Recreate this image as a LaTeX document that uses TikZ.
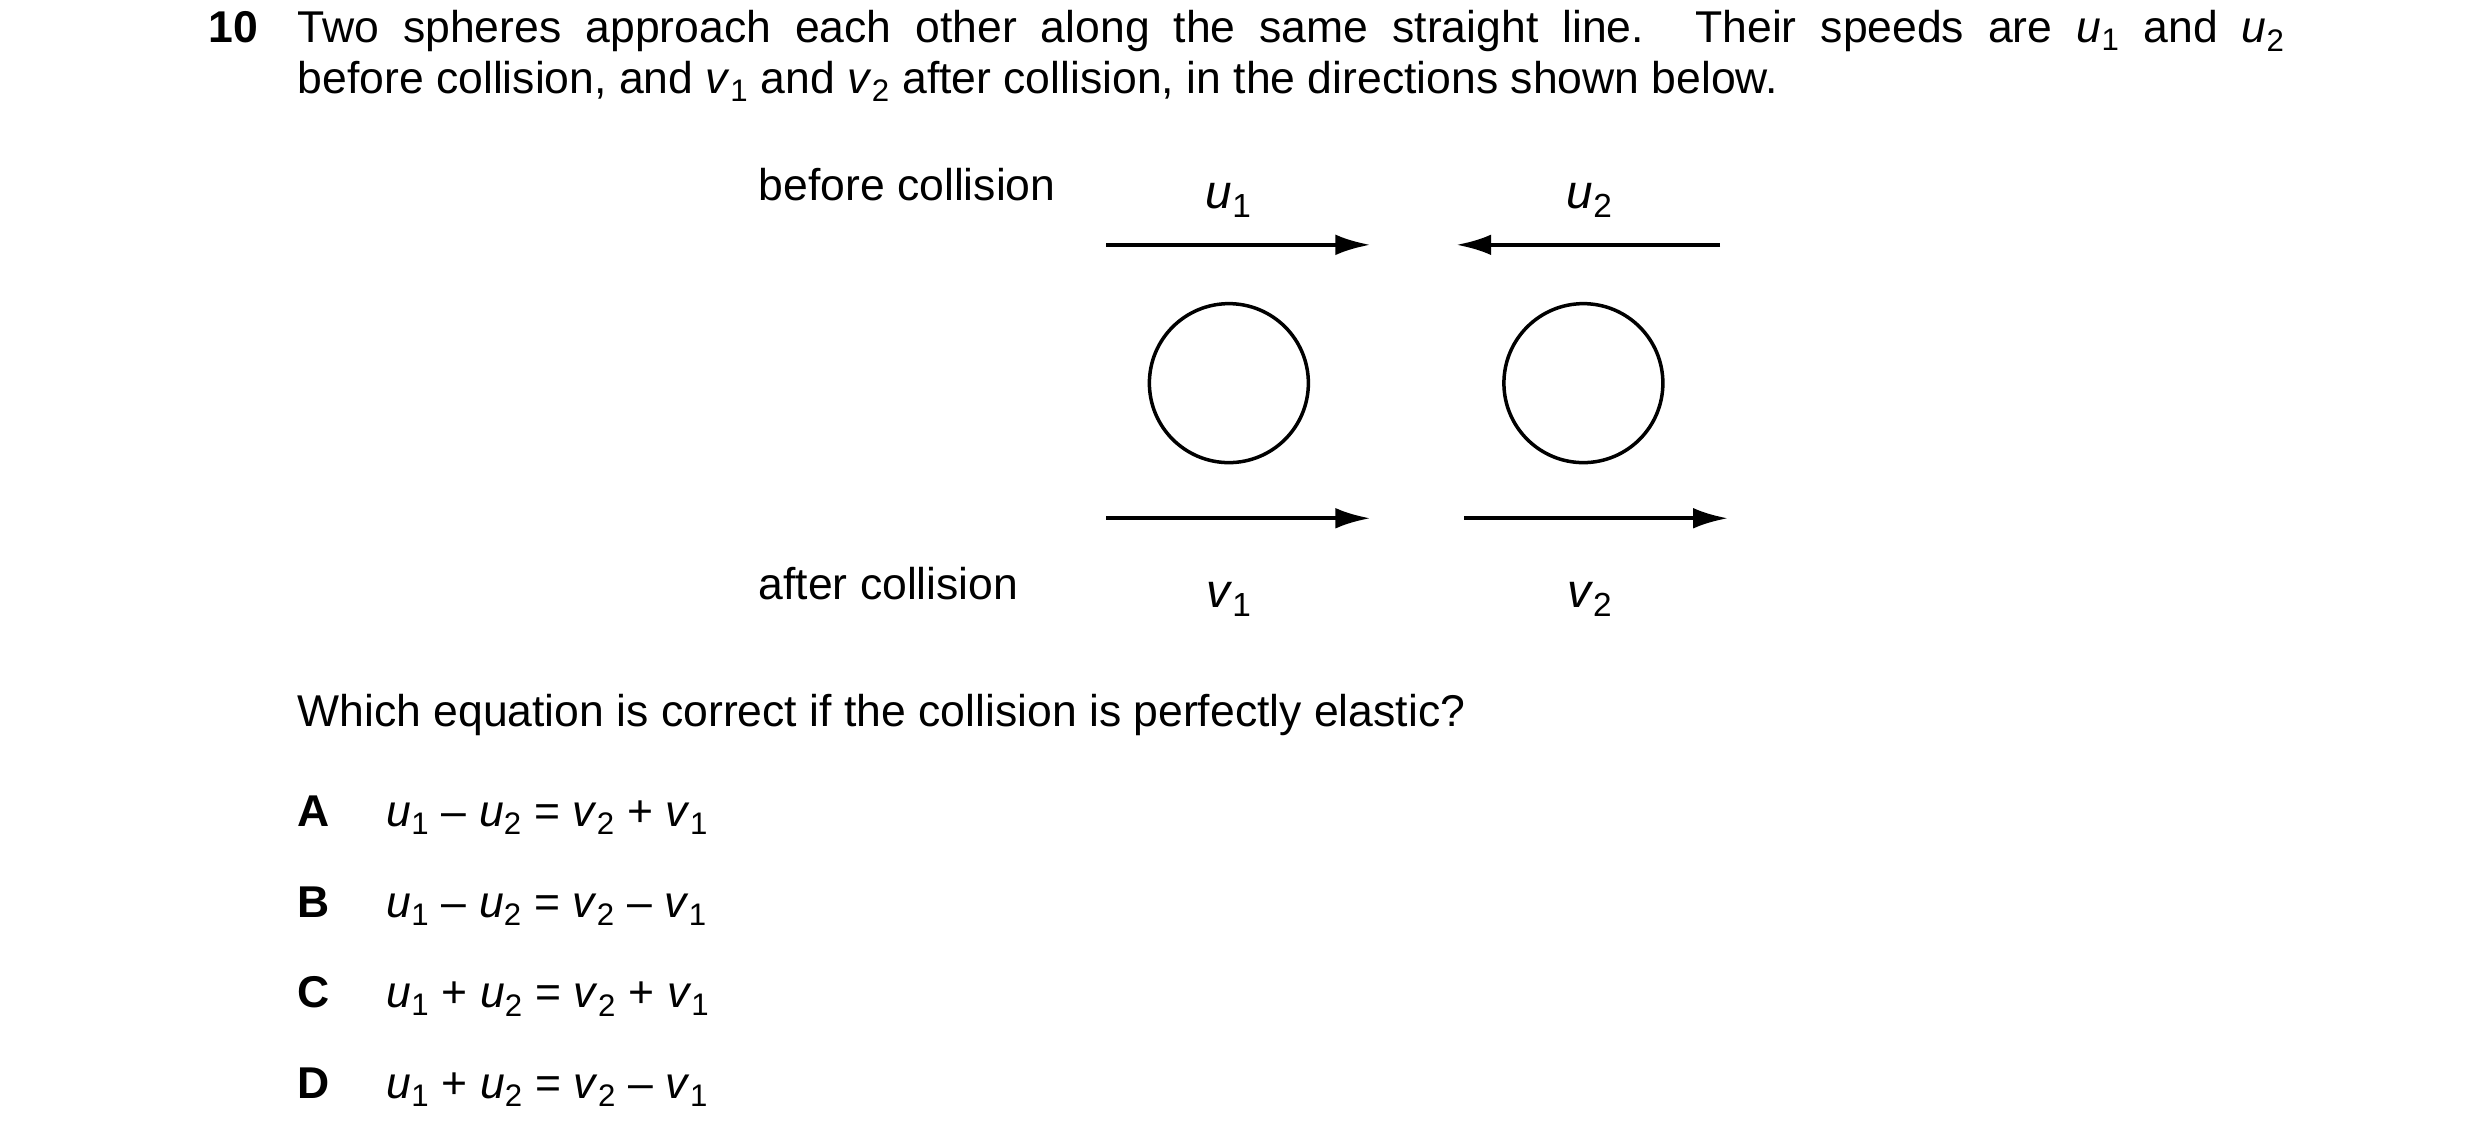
\documentclass[tikz,border=0pt]{standalone}
\usepackage{fontspec}
\setmainfont{Liberation Sans}
\usetikzlibrary{arrows.meta}
\newcommand{\vq}[2]{\textit{#1}\textsubscript{#2}}
\begin{document}
\begin{tikzpicture}[x=1pt,y=-1pt,
  txt/.style={anchor=base west,inner sep=0pt,font=\fontsize{28}{32}\selectfont},
  lab/.style={anchor=base,inner sep=0pt,font=\fontsize{30}{32}\selectfont},
  arr/.style={line width=2.6pt,-{Latex[length=22pt,width=13pt]}},
  ball/.style={circle,draw,line width=2.2pt,minimum size=100pt,inner sep=0pt}]
\useasboundingbox (0,0) rectangle (1560,715.2);
\node[txt,font=\bfseries\fontsize{28}{32}\selectfont] (num) at (131,27) {10};
\node[txt] (l1) at (187,27) {\makebox[1250pt][s]{Two spheres approach each other along the same straight line. Their speeds are \vq{u}{1} and \vq{u}{2}}};
\node[txt] (l2) at (187,59) {before collision, and \vq{v}{1} and \vq{v}{2} after collision, in the directions shown below.};
\node[txt] (bc) at (477,126) {before collision};
\node[txt] (ac) at (477,377) {after collision};
\node[lab] (u1) at (773,131) {\vq{u}{1}};
\node[lab] (u2) at (1000,131) {\vq{u}{2}};
\node[lab] (v1) at (773,382) {\vq{v}{1}};
\node[lab] (v2) at (1000,382) {\vq{v}{2}};
\node[ball] (s1) at (773,241) {};
\node[ball] (s2) at (996,241) {};
\coordinate (a1s) at (696,154); \coordinate (a1e) at (862,154);
\coordinate (a2s) at (1082,154); \coordinate (a2e) at (916,154);
\coordinate (b1s) at (696,326); \coordinate (b1e) at (862,326);
\coordinate (b2s) at (921,326); \coordinate (b2e) at (1087,326);
\draw[arr] (a1s) -- (a1e);
\draw[arr] (a2s) -- (a2e);
\draw[arr] (b1s) -- (b1e);
\draw[arr] (b2s) -- (b2e);
\node[txt] (q) at (187,457) {Which equation is correct if the collision is perfectly elastic?};
\node[txt,font=\bfseries\fontsize{28}{32}\selectfont] (A) at (187,520) {A};
\node[txt] (eA) at (243,520) {\vq{u}{1} – \vq{u}{2} = \vq{v}{2} + \vq{v}{1}};
\node[txt,font=\bfseries\fontsize{28}{32}\selectfont] (B) at (187,577) {B};
\node[txt] (eB) at (243,577) {\vq{u}{1} – \vq{u}{2} = \vq{v}{2} – \vq{v}{1}};
\node[txt,font=\bfseries\fontsize{28}{32}\selectfont] (C) at (187,634) {C};
\node[txt] (eC) at (243,634) {\vq{u}{1} + \vq{u}{2} = \vq{v}{2} + \vq{v}{1}};
\node[txt,font=\bfseries\fontsize{28}{32}\selectfont] (D) at (187,691) {D};
\node[txt] (eD) at (243,691) {\vq{u}{1} + \vq{u}{2} = \vq{v}{2} – \vq{v}{1}};
\end{tikzpicture}
\end{document}
